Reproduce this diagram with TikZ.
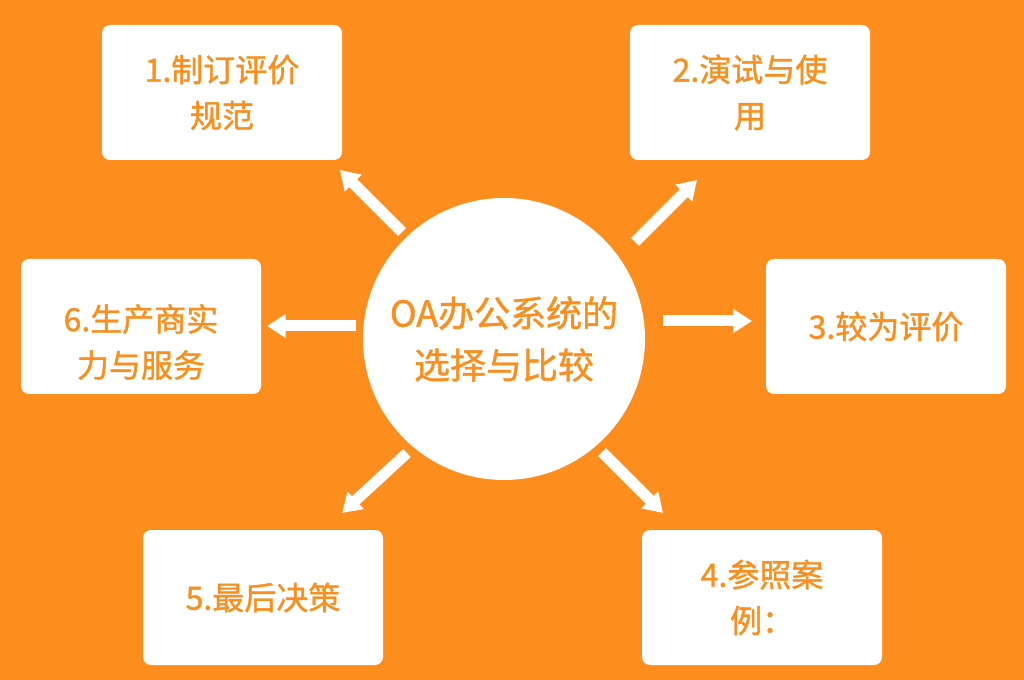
\documentclass[tikz,border=0pt]{standalone}
\usepackage{fontspec}
\setmainfont{Noto Sans CJK SC}[UprightFeatures={FakeBold=1.2}]
\usetikzlibrary{arrows.meta}
\definecolor{bgorange}{HTML}{FD8E1E}
\definecolor{txorange}{HTML}{F98F1E}
\tikzset{
  box/.style={rectangle, rounded corners=6pt, fill=white, draw=none,
    minimum width=180pt, minimum height=101.25pt, inner sep=0pt,
    text=txorange, align=center, font=\fontsize{24pt}{34.5pt}\selectfont},
  boxtext/.style={text=txorange, align=center, inner sep=0pt,
    font=\fontsize{24pt}{34.5pt}\selectfont},
  hub/.style={circle, fill=white, minimum size=211.5pt, inner sep=0pt,
    text=txorange, align=center, font=\fontsize{27pt}{39pt}\selectfont},
  arr/.style={draw=white, line width=8.25pt,
    -{Triangle[width=17pt,length=14pt]}}
}
\begin{document}
\begin{tikzpicture}[x=0.75pt,y=-0.75pt]
\fill[bgorange] (0,0) rectangle (1024,680);
\useasboundingbox (0,0) rectangle (1024,680);

\node[hub] (c) at (504,339) {\raisebox{-4pt}{\parbox{200pt}{\centering OA办公系统的\\选择与比较}}};

\node[box] (b1) at (222,92.5) {1.制订评价\\规范};
\node[box] (b2) at (750,92.5) {2.演试与使\\用};
\node[box] (b3) at (886,326.5) {3.较为评价};
\node[box] (b4) at (762,597.5) {4.参照案\\例：};
\node[box] (b5) at (263,597.5) {5.最后决策};
\node[box] (b6) at (141,326.5) {};
\node[boxtext] (t6) at (141,342) {6.生产商实\\力与服务};

\coordinate (s1) at (402,232); \coordinate (e1) at (340,170);
\coordinate (s2) at (635,242); \coordinate (e2) at (697,180);
\coordinate (s3) at (663,321); \coordinate (e3) at (752,321);
\coordinate (s4) at (602,452); \coordinate (e4) at (663,513);
\coordinate (s5) at (407,453); \coordinate (e5) at (342,513);
\coordinate (s6) at (356,326); \coordinate (e6) at (267,326);

\draw[arr] (s1) -- (e1);
\draw[arr] (s2) -- (e2);
\draw[arr] (s3) -- (e3);
\draw[arr] (s4) -- (e4);
\draw[arr] (s5) -- (e5);
\draw[arr] (s6) -- (e6);
\end{tikzpicture}
\end{document}
